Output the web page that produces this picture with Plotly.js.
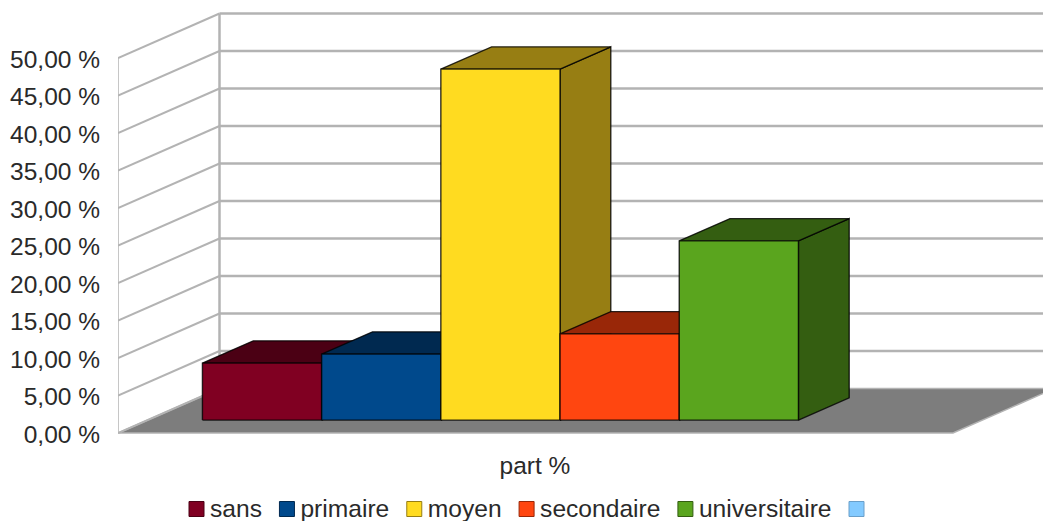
<!DOCTYPE html>
<html>
<head>
<meta charset="utf-8">
<script src="https://cdn.plot.ly/plotly-3.0.1.min.js"></script>
<style>html,body{margin:0;padding:0;background:#fff}#chart{width:1043px;height:521px}</style>
</head>
<body>
<div id="chart"></div>
<script>
// Education level shares, drawn as an oblique 3D column chart.
const categories = ['sans', 'primaire', 'moyen', 'secondaire', 'universitaire'];
const shares = [7.6, 8.8, 46.8, 11.5, 23.9];
const frontColors = ['#800022', '#00498c', '#ffdb20', '#ff4610', '#5aa51e'];
const shadeColors = ['#4b0014', '#002950', '#977e13', '#992708', '#345e11'];
const emptySeriesColor = '#83caff';
const tickValues = [0, 5, 10, 15, 20, 25, 30, 35, 40, 45, 50];
const tickLabels = ['0,00 %', '5,00 %', '10,00 %', '15,00 %', '20,00 %', '25,00 %', '30,00 %', '35,00 %', '40,00 %', '45,00 %', '50,00 %'];
const groupLabel = 'part %';

// Plot frame and the scale it implies, in pixels.
const W = 1043, H = 521, LEFT = 118, BOTTOM = 433;
const pxPerBar = 119.2, pxPerUnit = 7.5;
const wallDx = 101.5 / pxPerBar, wallDy = 44.5 / pxPerUnit;
const floorWidth = 835 / pxPerBar;
const barStart = 55 / pxPerBar, barFront = 0.29, barBack = 0.79;
const textFamily = '"Liberation Sans", Arial, sans-serif';
const textColor = '#2a2a2a';
const axisSize = 24.5, legendSize = 24.6;

// Oblique projection: u along the floor, v up, d into the depth (0..1).
const project = pts => ({
  x: pts.map(p => p[0] + p[2] * wallDx),
  y: pts.map(p => p[1] + p[2] * wallDy)
});

const traces = [];
const face = (pts, fill, line, width) => {
  const xy = project(pts);
  traces.push({
    type: 'scatter', mode: 'lines', x: xy.x, y: xy.y,
    fill: fill ? 'toself' : 'none', fillcolor: fill || undefined,
    line: {color: line, width: width, simplify: false},
    showlegend: false, hoverinfo: 'skip'
  });
};

// Floor
face([[0, 0, 0], [floorWidth, 0, 0], [floorWidth, 0, 1], [0, 0, 1], [0, 0, 0]], '#7d7d7d', '#b3b3b3', 1.5);

// Side wall and back wall grid
const topValue = tickValues[tickValues.length - 1];
face([[0, 0, 0], [0, topValue, 0]], null, '#b3b3b3', 1.5);
face([[0, 0, 1], [0, topValue, 1]], null, '#b3b3b3', 2.5);
tickValues.forEach(v => {
  face([[0, v, 0], [0, v, 1]], null, '#b3b3b3', 2);
  if (v > 0) face([[0, v, 1], [floorWidth, v, 1]], null, '#b3b3b3', 2.5);
});

// Columns, left to right so that each one overlaps its neighbour's shading
const edge = 'rgba(0,0,0,0.8)';
shares.forEach((v, i) => {
  const a = barStart + i, b = a + 1;
  face([[b, 0, barFront], [b, 0, barBack], [b, v, barBack], [b, v, barFront], [b, 0, barFront]], shadeColors[i], edge, 1.4);
  face([[a, v, barFront], [b, v, barFront], [b, v, barBack], [a, v, barBack], [a, v, barFront]], shadeColors[i], edge, 1.4);
  face([[a, 0, barFront], [b, 0, barFront], [b, v, barFront], [a, v, barFront], [a, 0, barFront]], frontColors[i], edge, 1.4);
});

const toX = px => (px - LEFT) / pxPerBar;
const toY = py => (BOTTOM - py) / pxPerUnit;
const label = (px, py, text, position, size) => traces.push({
  type: 'scatter', mode: 'text', showlegend: false, hoverinfo: 'skip',
  x: [toX(px)], y: [toY(py)], text: [text], textposition: position,
  textfont: {family: textFamily, size: size, color: textColor}
});

// Group label under the floor
label(535, 468, groupLabel, 'middle center', axisSize);

// Legend row under the chart: swatch then label, spaced by the measured label widths.
// The unnamed sixth series only has a swatch.
const ruler = document.createElement('canvas').getContext('2d');
ruler.font = legendSize + 'px "Liberation Sans"';
const legendRow = 509, legendTextRow = 511;
const swatchSize = 15, swatchToText = 6, textToSwatch = 17.5;
let legendPx = 189;
const legendItem = (name, color, border) => {
  traces.push({
    type: 'scatter', mode: 'markers', showlegend: false, hoverinfo: 'skip',
    x: [toX(legendPx + swatchSize / 2)], y: [toY(legendRow)],
    marker: {symbol: 'square', size: swatchSize, color: color, line: {color: border, width: 1}}
  });
  if (name) {
    label(legendPx + swatchSize + swatchToText, legendTextRow, name, 'middle right', legendSize);
    legendPx += swatchSize + swatchToText + ruler.measureText(name).width + textToSwatch;
  }
};
categories.forEach((c, i) => legendItem(c, frontColors[i], shadeColors[i]));
legendItem('', emptySeriesColor, '#6a9fc9');

const layout = {
  width: W, height: H,
  margin: {l: LEFT, r: 0, t: 0, b: 0, pad: 0},
  paper_bgcolor: '#fff', plot_bgcolor: '#fff',
  font: {family: textFamily, size: axisSize, color: textColor},
  showlegend: false,
  xaxis: {range: [0, (W - LEFT) / pxPerBar], visible: false},
  yaxis: {
    range: [toY(H), toY(0)], showgrid: false, zeroline: false, showline: false,
    tickmode: 'array', tickvals: tickValues, ticktext: tickLabels,
    ticks: '', ticklabelstandoff: 17, ticklabelshift: 1,
    tickfont: {family: textFamily, size: axisSize, color: textColor}
  }
};

Plotly.newPlot('chart', traces, layout, {displayModeBar: false, staticPlot: true});
</script>
</body>
</html>
